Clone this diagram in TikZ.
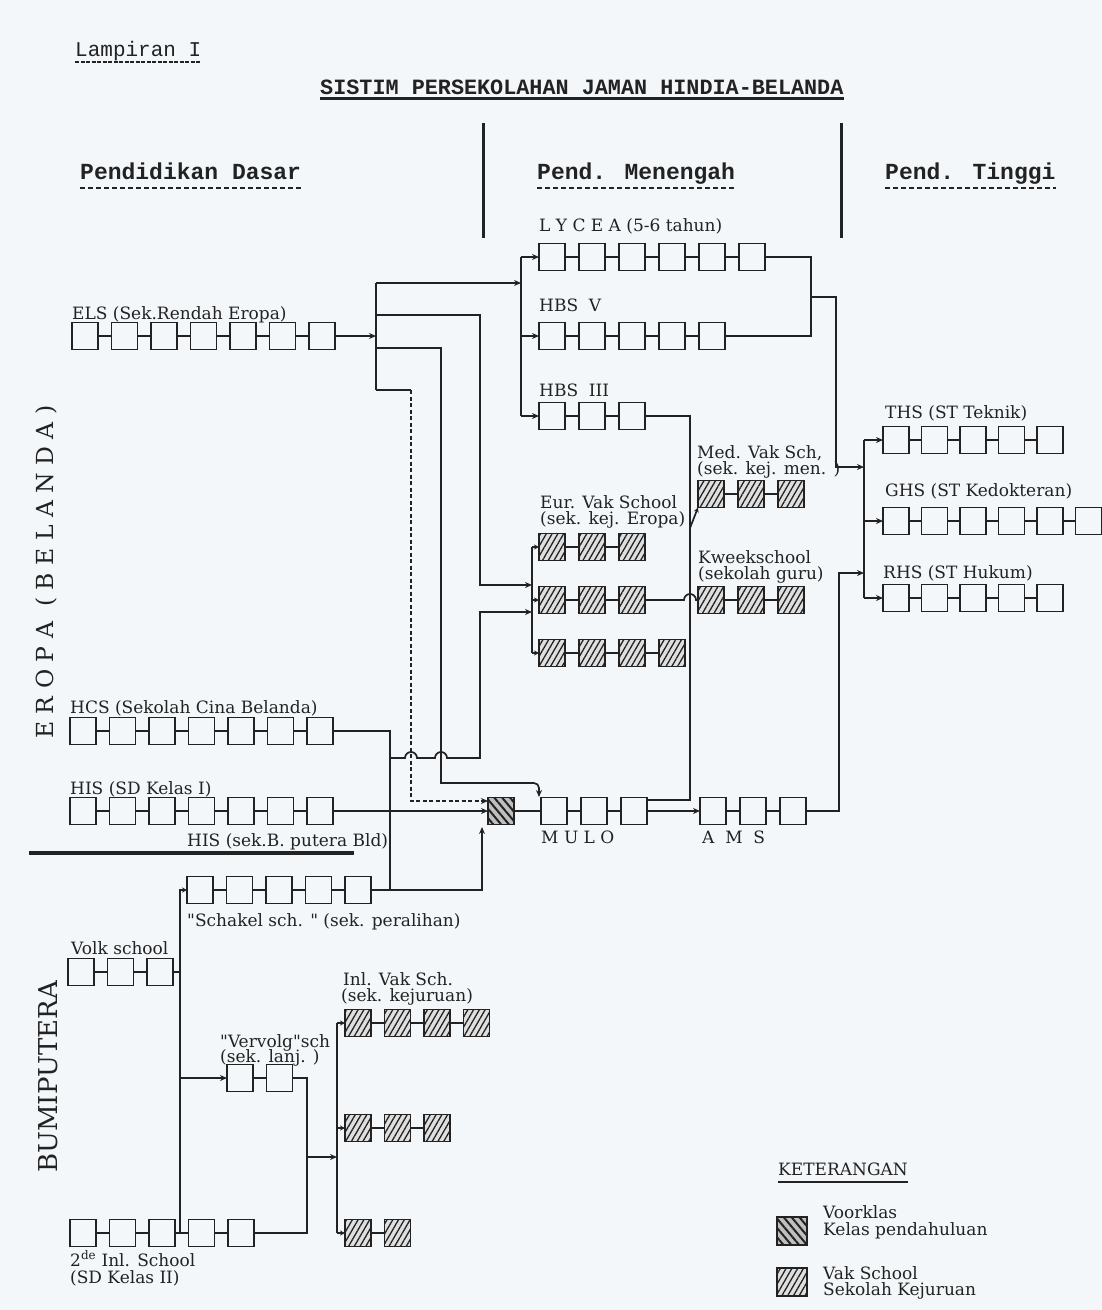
\documentclass[tikz,border=0pt]{standalone}
\usepackage{fontspec}
\setmainfont{DejaVu Serif}[Ligatures=TeXOff]
\newfontfamily\tw{Liberation Mono}[Ligatures=TeXOff]
\usetikzlibrary{arrows.meta,patterns.meta,calc}
\definecolor{ink}{HTML}{222222}
\definecolor{paper}{HTML}{F3F7F9}
\newcommand\sekrow[6]{%
  \foreach \k in {1,...,#4}{%
    \node[#6] (#1\k) at ({#2+13+(\k-1)*#5},#3) {};
  }
  \foreach \k [remember=\k as \kprev (initially 1)] in {2,...,#4}{%
    \draw[link] (#1\kprev.east) -- (#1\k.west);
  }
}
\begin{document}
\begin{tikzpicture}[x=1pt,y=-1pt,
  kls/.style={draw=ink, line width=1.8pt, fill=paper, minimum width=26pt, minimum height=27pt, inner sep=0pt, outer sep=0pt},
  vak/.style={kls, preaction={fill=gray!25}, pattern={Lines[angle=60,distance=5pt,line width=1.3pt]}, pattern color=ink},
  voor/.style={kls, preaction={fill=gray!50}, pattern={Lines[angle=-50,distance=6pt,line width=2pt]}, pattern color=ink},
  link/.style={draw=ink, line width=1.8pt},
  wire/.style={draw=ink, line width=1.7pt},
  arr/.style={wire, -{Stealth[length=7pt,width=6pt]}},
  sarr/.style={wire, -{Stealth[length=5pt,width=5pt]}},
  dsh/.style={wire, dash pattern=on 4pt off 2.5pt},
  lbl/.style={anchor=base west, inner sep=0pt, text=ink, font=\fontsize{17}{19}\selectfont},
  hd/.style={anchor=base west, inner sep=0pt, text=ink, font=\tw\bfseries\fontsize{23}{26}\selectfont},
  hdul/.style={draw=ink, line width=2.5pt, dash pattern=on 5pt off 3pt},
  rot/.style={inner sep=0pt, text=ink, rotate=90}
]
\fill[paper] (0,0) rectangle (1102,1310);
\useasboundingbox (0,0) rectangle (1102,1310);

% ---------- header ----------
\node[anchor=base west, inner sep=0pt, text=ink, font=\tw\fontsize{21}{24}\selectfont] (lamp) at (75,56) {Lampiran I};
\draw[draw=ink, line width=1.5pt, dash pattern=on 4pt off 1.5pt] ($(lamp.base west)+(0,6)$) -- ($(lamp.base east)+(0,6)$);
\node[anchor=base west, inner sep=0pt, text=ink, font=\tw\bfseries\fontsize{21.8}{24}\selectfont] (ttl) at (320,94) {SISTIM PERSEKOLAHAN JAMAN HINDIA-BELANDA};
\draw[draw=ink, line width=2.8pt] ($(ttl.base west)+(0,4.5)$) -- ($(ttl.base east)+(0,4.5)$);

\node[hd] (hD) at (80,179) {Pendidikan Dasar};
\node[hd] (hM) at (537,179) {Pend. Menengah};
\node[hd] (hT) at (885,179) {Pend. Tinggi};
\draw[hdul] ($(hD.base west)+(0,9)$) -- ($(hD.base east)+(0,9)$);
\draw[hdul] ($(hM.base west)+(0,9)$) -- ($(hM.base east)+(0,9)$);
\draw[hdul] ($(hT.base west)+(0,9)$) -- ($(hT.base east)+(0,9)$);
\draw[draw=ink, line width=3pt] (483,123) -- (483,238);
\draw[draw=ink, line width=3pt] (841,123) -- (841,238);

% ---------- side titles ----------
\node[rot, font=\fontsize{23.5}{26}\selectfont] (tEro) at (46,572) {E R O P A\ \ ( B E L A N D A )};
\node[rot, font=\fontsize{26}{28}\selectfont] (tBumi) at (48,1077) {BUMIPUTERA};

% ---------- box rows ----------
\sekrow{lyc}{539}{257}{6}{40}{kls}
\sekrow{hbv}{539}{336}{5}{40}{kls}
\sekrow{hbt}{539}{416}{3}{40}{kls}
\sekrow{els}{72}{336}{7}{39.5}{kls}
\sekrow{ths}{883}{440}{5}{38.5}{kls}
\sekrow{ghs}{883}{521}{6}{38.5}{kls}
\sekrow{rhs}{883}{598}{5}{38.5}{kls}
\sekrow{med}{698}{494}{3}{40}{vak}
\sekrow{eua}{539}{547}{3}{40}{vak}
\sekrow{eub}{539}{600}{3}{40}{vak}
\sekrow{euc}{539}{653}{4}{40}{vak}
\sekrow{kwe}{698}{600}{3}{40}{vak}
\sekrow{hcs}{70}{731}{7}{39.5}{kls}
\sekrow{his}{70}{811}{7}{39.5}{kls}
\node[voor] (vk) at (501,811) {};
\sekrow{mul}{541}{811}{3}{40}{kls}
\sekrow{ams}{700}{811}{3}{40}{kls}
\sekrow{sch}{187}{890}{5}{39.5}{kls}
\sekrow{vol}{68}{972}{3}{39.5}{kls}
\sekrow{ver}{227}{1078}{2}{39.5}{kls}
\sekrow{iva}{345}{1023}{4}{39.5}{vak}
\sekrow{ivb}{345}{1128}{3}{39.5}{vak}
\sekrow{ivc}{345}{1233}{2}{39.5}{vak}
\sekrow{ind}{70}{1233}{5}{39.5}{kls}

% ---------- labels ----------
\node[lbl] (tELS) at (72,319) {ELS (Sek.Rendah Eropa)};
\node[lbl] (tLYC) at (539,231) {L Y C E A (5-6 tahun)};
\node[lbl] (tHBV) at (539,311) {HBS\ \ V};
\node[lbl] (tHBT) at (539,396) {HBS\ \ III};
\node[lbl] (tTHS) at (885,418) {THS (ST Teknik)};
\node[lbl] (tMed1) at (697,458) {Med. Vak Sch,};
\node[lbl] (tMed2) at (697,474) {(sek. kej. men. )};
\node[lbl] (tGHS) at (885,496) {GHS (ST Kedokteran)};
\node[lbl] (tEur1) at (540,508) {Eur. Vak School};
\node[lbl] (tEur2) at (540,524) {(sek. kej. Eropa)};
\node[lbl] (tKw1) at (698,563) {Kweekschool};
\node[lbl] (tKw2) at (698,579) {(sekolah guru)};
\node[lbl] (tRHS) at (883,578) {RHS (ST Hukum)};
\node[lbl] (tHCS) at (70,713) {HCS (Sekolah Cina Belanda)};
\node[lbl] (tHIS) at (70,794) {HIS (SD Kelas I)};
\node[lbl] (tHISB) at (187,846) {HIS (sek.B. putera Bld)};
\node[lbl] (tMUL) at (541,843) {M U L O};
\node[lbl] (tAMS) at (702,843) {A\ \ M\ \ S};
\node[lbl] (tSch) at (187,926) {"Schakel sch. " (sek. peralihan)};
\node[lbl] (tVol) at (71,954) {Volk school};
\node[lbl] (tInl1) at (343,985) {Inl. Vak Sch.};
\node[lbl] (tInl2) at (341,1001) {(sek. kejuruan)};
\node[lbl] (tVer1) at (220,1047) {"Vervolg"sch};
\node[lbl] (tVer2) at (220,1062) {(sek. lanj. )};
\node[lbl] (tInd1) at (70,1266) {2\textsuperscript{de} Inl. School};
\node[lbl] (tInd2) at (70,1283) {(SD Kelas II)};

% separator
\draw[draw=ink, line width=3.5pt] (29,853) -- (354,853);

% ---------- connectors: Europe ----------
\coordinate (sA) at (376,283);
\coordinate (sB) at (376,315);
\coordinate (sC) at (376,348);
\coordinate (sD) at (376,390);
\coordinate (bL) at (521,0);
\coordinate (bE) at (532,0);
\coordinate (bR) at (864,0);
\draw[wire] (sA) -- (sD);
\draw[arr] (els7.east) -- (els7.east -| sA);
\draw[arr] (sA) -- (sA -| bL);
\draw[wire] (bL |- lyc1.west) -- (bL |- hbt1.west);
\draw[arr] (bL |- lyc1.west) -- (lyc1.west);
\draw[arr] (bL |- hbv1.west) -- (hbv1.west);
\draw[arr] (bL |- hbt1.west) -- (hbt1.west);

\draw[arr] (sB) -- (480,315) -- (480,585) -- (bE |- 0,585);
\draw[wire] (bE |- eua1.west) -- (bE |- euc1.west);
\draw[sarr] (bE |- eua1.west) -- (eua1.west);
\draw[sarr] (bE |- eub1.west) -- (eub1.west);
\draw[sarr] (bE |- euc1.west) -- (euc1.west);

\draw[arr] (sC) -- (441,348) -- (441,783) [rounded corners=5pt] -- (539,783) -- (539,797);
\draw[wire] (sD) -- (411,390);
\draw[dsh, -{Stealth[length=7pt,width=6pt]}] (411,390) -- (411,801) -- (vk.west |- 0,801);

\draw[arr] (390,758) -- (405,758) arc[start angle=180,end angle=360,radius=6] -- (435,758) arc[start angle=180,end angle=360,radius=6] -- (480,758) -- (480,612) -- (bE |- 0,612);

\draw[wire] (hcs7.east) -- (390,731) -- (390,890);
\draw[arr] (sch5.east) -- (482,890) -- (482,827);
\draw[arr] (his7.east) -- (vk.west);
\draw[link] (vk.east) -- (mul1.west);
\draw[arr] (mul3.east) -- (ams1.west);

\draw[wire] (hbt3.east) -- (690,416) -- (690,800) -- (mul3.east |- 0,800);
\draw[sarr] (690,528) -- (med1.south west);
\draw[wire] (eub3.east) -- (684,600) arc[start angle=180,end angle=360,radius=6] -- (kwe1.west);

\draw[wire] (lyc6.east) -- (811,257) -- (811,336) -- (hbv5.east);
\draw[arr] (811,297) -- (836,297) -- (836,467) -- (bR |- 0,467);
\draw[arr] (ams3.east) -- (839,811) -- (839,573) -- (bR |- 0,573);
\draw[wire] (bR |- ths1.west) -- (bR |- rhs1.west);
\draw[arr] (bR |- ths1.west) -- (ths1.west);
\draw[arr] (bR |- ghs1.west) -- (ghs1.west);
\draw[arr] (bR |- rhs1.west) -- (rhs1.west);

% ---------- connectors: Bumiputera ----------
\draw[wire] (vol3.east) -- (180,972);
\draw[sarr] (180,1233) -- (180,890) -- (sch1.west);
\draw[arr] (180,1078) -- (ver1.west);
\draw[wire] (ver2.east) -- (307,1078) -- (307,1233) -- (ind5.east);
\draw[arr] (307,1157) -- (337,1157);
\draw[wire] (337,1023) -- (337,1233);
\draw[sarr] (337,1023) -- (iva1.west);
\draw[sarr] (337,1128) -- (ivb1.west);
\draw[sarr] (337,1233) -- (ivc1.west);

% ---------- legend ----------
\node[lbl] (tKet) at (778,1175) {KETERANGAN};
\draw[draw=ink, line width=1.8pt] ($(tKet.base west)+(0,7)$) -- ($(tKet.base east)+(0,7)$);
\node[voor, minimum width=30pt, minimum height=28pt] (lgV) at (792,1231) {};
\node[lbl] (tV1) at (823,1218) {Voorklas};
\node[lbl] (tV2) at (823,1235) {Kelas pendahuluan};
\node[vak, minimum width=30pt, minimum height=28pt] (lgK) at (792,1282) {};
\node[lbl] (tK1) at (823,1279) {Vak School};
\node[lbl] (tK2) at (823,1295) {Sekolah Kejuruan};
\end{tikzpicture}
\end{document}
